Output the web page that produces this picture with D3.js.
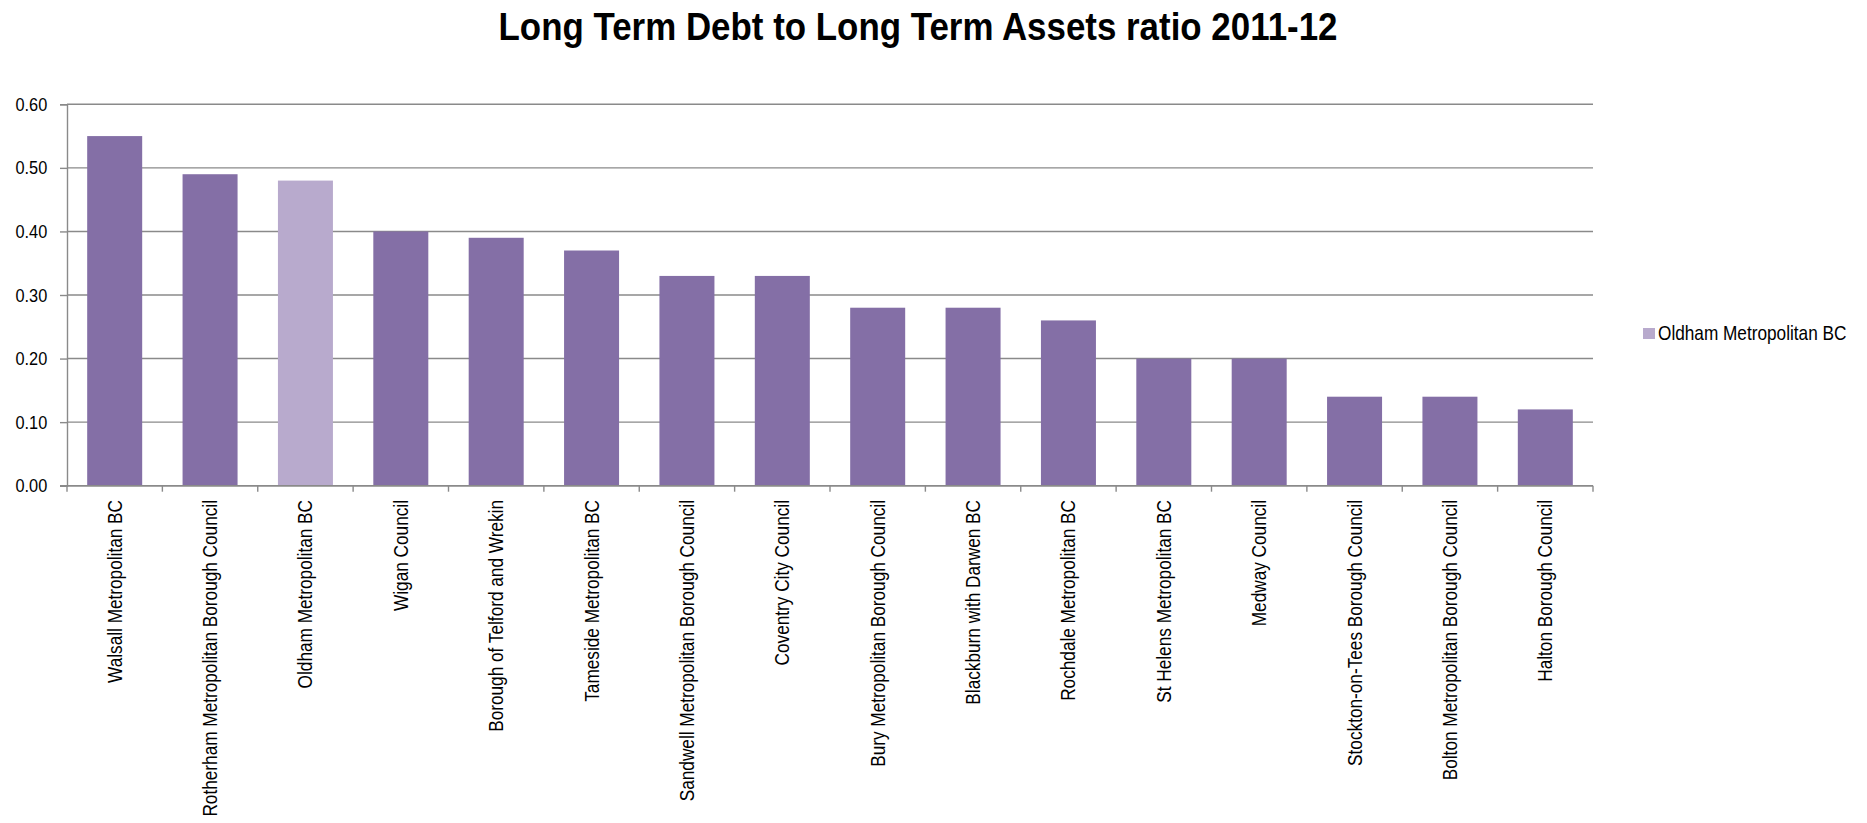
<!DOCTYPE html>
<html>
<head>
<meta charset="utf-8">
<script src="https://cdn.jsdelivr.net/npm/d3@7"></script>
<style>
  html, body { margin: 0; padding: 0; background: #fff; }
  svg { display: block; }
  text { font-family: "Liberation Sans", Arial, "Helvetica Neue", Helvetica, sans-serif; fill: #000; }
</style>
</head>
<body>
<svg id="chart" width="1867" height="823"></svg>
<script>
// Councils, in the order plotted
const councils = [
  "Walsall Metropolitan BC",
  "Rotherham Metropolitan Borough Council",
  "Oldham Metropolitan BC",
  "Wigan Council",
  "Borough of Telford and Wrekin",
  "Tameside Metropolitan BC",
  "Sandwell Metropolitan Borough Council",
  "Coventry City Council",
  "Bury Metropolitan Borough Council",
  "Blackburn with Darwen BC",
  "Rochdale Metropolitan BC",
  "St Helens Metropolitan BC",
  "Medway Council",
  "Stockton-on-Tees Borough Council",
  "Bolton Metropolitan Borough Council",
  "Halton Borough Council"
];

// Long term debt / long term assets, 2011-12
const ratios = [0.55, 0.49, 0.48, 0.40, 0.39, 0.37, 0.33, 0.33, 0.28, 0.28, 0.26, 0.20, 0.20, 0.14, 0.14, 0.12];

const highlighted = "Oldham Metropolitan BC";
const yTicks = [0, 0.1, 0.2, 0.3, 0.4, 0.5, 0.6];
const titleText = "Long Term Debt to Long Term Assets ratio 2011-12";

const svg = d3.select("#chart");
const plotLeft = 67, plotRight = 1593, plotTop = 104.3, plotBottom = 485.7;

const barColor = "#846fa6";
const highlightColor = "#b8aacd";
const gridColor = "#8a8a8a";

// Condensed look: squeeze glyphs horizontally along the text direction
const narrow = 0.82;

const x = d3.scaleBand()
  .domain(councils)
  .range([plotLeft, plotRight])
  .paddingInner(0.4233)
  .paddingOuter(0.21165);

const y = d3.scaleLinear().domain([0, 0.6]).range([plotBottom, plotTop]);

// Title
svg.append("text")
  .attr("x", 918)
  .attr("y", 39.5)
  .attr("text-anchor", "middle")
  .attr("font-size", 39)
  .attr("font-weight", "bold")
  .attr("textLength", 839)
  .attr("lengthAdjust", "spacingAndGlyphs")
  .text(titleText);

// Horizontal gridlines
svg.append("g")
  .selectAll("line")
  .data(yTicks)
  .join("line")
  .attr("x1", plotLeft)
  .attr("x2", plotRight)
  .attr("y1", d => y(d))
  .attr("y2", d => y(d))
  .attr("stroke", gridColor)
  .attr("stroke-width", 1.4);

// Y axis
const yAxis = svg.append("g")
  .attr("transform", `translate(${plotLeft},0)`)
  .call(d3.axisLeft(y).tickValues(yTicks).tickFormat(d3.format(".2f")).tickSize(7).tickPadding(16));
yAxis.attr("font-family", null).attr("font-size", null);
yAxis.select(".domain").attr("stroke", gridColor).attr("stroke-width", 1.4);
yAxis.selectAll(".tick line").attr("stroke", gridColor).attr("stroke-width", 1.4);
yAxis.selectAll(".tick text")
  .attr("font-size", 19)
  .attr("fill", "#000")
  .attr("transform", "scale(0.86,1)");

// Bars
svg.append("g")
  .selectAll("rect")
  .data(councils)
  .join("rect")
  .attr("x", d => x(d))
  .attr("width", x.bandwidth())
  .attr("y", (d, i) => y(ratios[i]))
  .attr("height", (d, i) => y(0) - y(ratios[i]))
  .attr("fill", d => d === highlighted ? highlightColor : barColor);

// X axis baseline and category boundary ticks
const boundaries = councils.map(c => x(c) - x.step() * x.paddingInner() / 2).concat([plotRight]);
svg.append("line")
  .attr("x1", plotLeft - 7).attr("x2", plotRight)
  .attr("y1", plotBottom).attr("y2", plotBottom)
  .attr("stroke", gridColor).attr("stroke-width", 1.4);
svg.append("g")
  .selectAll("line")
  .data(boundaries)
  .join("line")
  .attr("x1", d => d).attr("x2", d => d)
  .attr("y1", plotBottom).attr("y2", plotBottom + 6)
  .attr("stroke", gridColor).attr("stroke-width", 1.4);

// Rotated category labels
svg.append("g")
  .selectAll("text")
  .data(councils)
  .join("text")
  .attr("transform", d => `translate(${x(d) + x.bandwidth() / 2 + 7},500) rotate(-90) scale(${narrow},1)`)
  .attr("text-anchor", "end")
  .attr("font-size", 21)
  .text(d => d);

// Legend
const legend = svg.append("g").attr("transform", "translate(1643,328)");
legend.append("rect").attr("width", 12).attr("height", 11).attr("fill", highlightColor);
legend.append("text")
  .attr("transform", `translate(15,12) scale(${narrow},1)`)
  .attr("font-size", 21)
  .text(highlighted);
</script>
</body>
</html>
